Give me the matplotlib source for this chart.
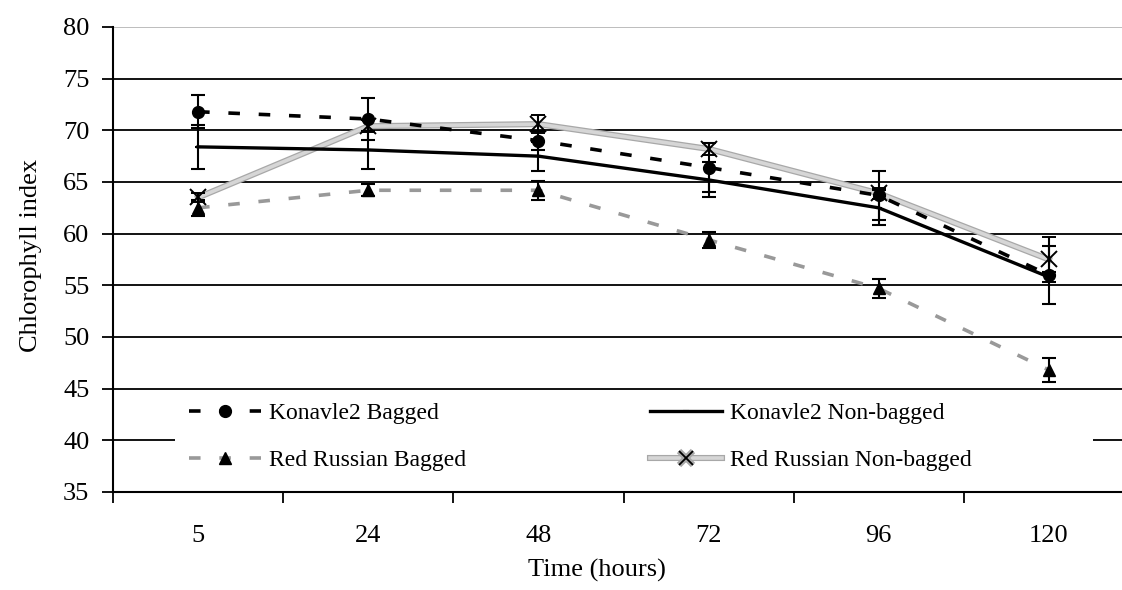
import matplotlib
matplotlib.use("Agg")
import matplotlib.pyplot as plt
import matplotlib.patheffects as pe
from matplotlib.lines import Line2D
from matplotlib.patches import Rectangle
import numpy as np

# --- Data ---
hours = ["5", "24", "48", "72", "96", "120"]

k2_bagged = [71.8, 71.1, 69.0, 66.4, 63.7, 56.0]
k2_bagged_err = [1.6, 2.0, 0.9, 2.4, 2.4, 2.8]

k2_nonbagged = [68.4, 68.1, 67.5, 65.2, 62.5, 55.8]
k2_nonbagged_err = [2.1, 1.8, 1.4, 1.7, 1.7, 0.5]

rr_bagged = [62.5, 64.2, 64.2, 59.4, 54.7, 46.8]
rr_bagged_err = [0.8, 0.6, 0.9, 0.8, 0.9, 1.2]

rr_nonbagged = [63.5, 70.4, 70.6, 68.2, 63.9, 57.5]
rr_nonbagged_err = [0.4, 0.6, 0.9, 0.6, 0.5, 2.2]

# --- Style ---
plt.rcParams['font.family'] = ['Liberation Serif', 'DejaVu Serif']
FS = 19
DASH = (3.2, 5.2)
RR_FX = [pe.Stroke(linewidth=4.4, foreground="#a8a8a8"), pe.Normal()]

fig = plt.figure(figsize=(11.22, 5.90), dpi=100)
# axes runs a bit past the right edge, the reference is cropped there
ax = fig.add_axes([113 / 1122, 1 - 492 / 590, 1021 / 1122, 465 / 590])

x = np.arange(len(hours))
eb_kw = dict(ecolor="black", elinewidth=1.5, capsize=5, capthick=1.5, ls="none")

# Red Russian Non-bagged: light grey textured line, X markers
ax.plot(x, rr_nonbagged, color="#d6d6d6", lw=2.6, path_effects=RR_FX, zorder=4)
ax.errorbar(x, rr_nonbagged, yerr=rr_nonbagged_err, marker="x", ms=11,
            mec="black", mew=1.4, zorder=4.5, **eb_kw)

# Red Russian Bagged: grey dashed, black triangles
ax.plot(x, rr_bagged, color="#999999", lw=2.6, dashes=DASH, zorder=3)
ax.errorbar(x, rr_bagged, yerr=rr_bagged_err, marker="^", ms=8.5,
            mfc="black", mec="black", zorder=3.5, **eb_kw)

# Konavle2 Non-bagged: black solid
ax.plot(x, k2_nonbagged, color="black", lw=2.4, zorder=5)
ax.errorbar(x, k2_nonbagged, yerr=k2_nonbagged_err, marker="_", ms=5,
            mec="black", mew=1.5, zorder=5.5, **eb_kw)

# Konavle2 Bagged: black dashed, circles
ax.plot(x, k2_bagged, color="black", lw=2.6, dashes=DASH, zorder=6)
ax.errorbar(x, k2_bagged, yerr=k2_bagged_err, marker="o", ms=8.5,
            mfc="black", mec="black", zorder=6.5, **eb_kw)

# --- Axes ---
ax.set_ylim(35, 80)
ax.set_xlim(-0.5, 5.5)
ax.set_yticks(np.arange(35, 81, 5))
ax.tick_params(axis="y", direction="out", length=8, width=1.3, pad=9, labelsize=FS)

ax.set_xticks(np.arange(-0.5, 5.6, 1.0))
ax.set_xticklabels([])
ax.tick_params(axis="x", which="major", direction="out", length=8, width=1.3)
ax.set_xticks(x, minor=True)
ax.set_xticklabels(hours, minor=True)
ax.tick_params(axis="x", which="minor", length=0, pad=24, labelsize=FS)

for y in range(40, 80, 5):
    ax.axhline(y, color="black", lw=1.3, zorder=1)
ax.axhline(80, color="#b8b8b8", lw=1.3, zorder=1)

for s in ["top", "right"]:
    ax.spines[s].set_visible(False)
ax.spines["left"].set_linewidth(1.5)
ax.spines["bottom"].set_linewidth(1.5)

ax.set_xlabel("Time (hours)", fontsize=FS)
ax.xaxis.set_label_coords((597 - 113) / 1021, -(559 - 492) / 465)
ax.set_ylabel("Chlorophyll index", fontsize=FS)
ax.yaxis.set_label_coords(-(113 - 42) / 1021, (492 - 255) / 465)

# --- Legend ---
# white box behind the legend hides the gridlines, as in the reference
ax.add_patch(Rectangle((-0.5 + (175 - 113) / 170.2, 36.3),
                       (1093 - 175) / 170.2, 44.85 - 36.3,
                       facecolor="white", edgecolor="none", zorder=2))

handles = [
    Line2D([], [], color="black", lw=2.6, dashes=DASH, marker="o", ms=8.5, mfc="black"),
    Line2D([], [], color="#999999", lw=2.6, dashes=DASH, marker="^", ms=8.5,
           mfc="black", mec="black"),
    Line2D([], [], color="black", lw=2.4, marker="_", ms=5, mew=1.5),
    Line2D([], [], color="#d6d6d6", lw=2.6, path_effects=RR_FX, marker="x", ms=10,
           mec="black", mew=1.3),
]
labels = ["Konavle2 Bagged", "Red Russian Bagged", "Konavle2 Non-bagged",
          "Red Russian Non-bagged"]
leg = ax.legend(handles, labels, ncol=2, fontsize=17, numpoints=1,
                loc="upper left", bbox_to_anchor=((175 - 113) / 1021, 0.2222),
                borderaxespad=0, frameon=False, borderpad=0.6,
                handlelength=3.05, handletextpad=0.35,
                columnspacing=7.75, labelspacing=1.08)
leg.set_zorder(7)

fig.savefig("out.png", dpi=100)
